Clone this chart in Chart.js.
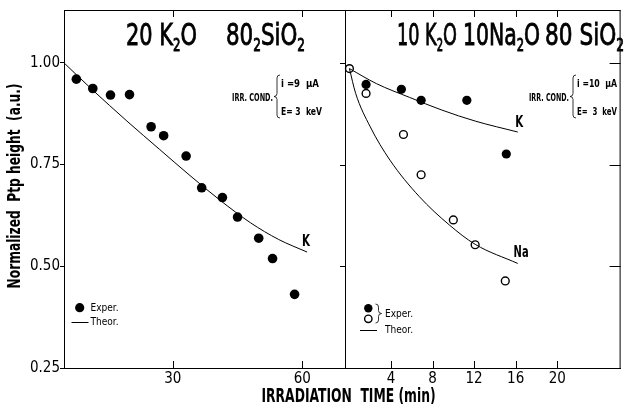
<!DOCTYPE html>
<html>
<head>
<meta charset="utf-8">
<script src="https://cdn.jsdelivr.net/npm/chart.js@4.4.0/dist/chart.umd.min.js"></script>
<style>
  body { margin: 0; background: #fff; }
  #wrap { position: relative; width: 625px; height: 404px; overflow: hidden; }
  #left { position: absolute; left: 0; top: 0; }
  #right { position: absolute; left: 340px; top: 0; }
  #xtitle {
    position: absolute; left: 199px; width: 300px; top: 384px;
    text-align: center; line-height: 19px; white-space: pre;
    font: bold 19px 'DejaVu Sans Condensed', 'DejaVu Sans', sans-serif;
  }
  #xtitle span { display: inline-block; transform-origin: center; }
</style>
</head>
<body>
<div id="wrap">
  <canvas id="left" width="352" height="404"></canvas>
  <canvas id="right" width="286" height="404"></canvas>
  <div id="xtitle"><span>IRRADIATION  TIME (min)</span></div>
</div>
<script>
const FONT = "'DejaVu Sans Condensed', 'DejaVu Sans', sans-serif";

// left panel: 20 K2O 80 SiO2
const leftExpTime = [7.7, 11.5, 15.6, 20.0, 25.0, 27.9, 33.1, 36.7, 41.5, 45.0, 49.9, 53.1, 58.2];
const leftExpK = [0.960, 0.937, 0.921, 0.922, 0.843, 0.821, 0.771, 0.693, 0.669, 0.621, 0.569, 0.519, 0.431];
const leftTheoTime = [4.84, 11.3, 19.4, 27.0, 34.0, 41.0, 48.0, 54.5, 61.1];
const leftTheoK = [1.000, 0.935, 0.857, 0.787, 0.723, 0.662, 0.607, 0.566, 0.535];

// right panel: 10 K2O 10 Na2O 80 SiO2
const rightExpTimeK = [1.6, 5.0, 6.9, 11.3, 15.1];
const rightExpK = [0.947, 0.935, 0.908, 0.908, 0.776];
const rightExpTimeNa = [0, 1.6, 5.2, 6.9, 10.0, 12.1, 15.0];
const rightExpNa = [0.986, 0.925, 0.824, 0.725, 0.614, 0.553, 0.464];
const rightTheoTimeK = [0, 2.6, 5.8, 8.9, 12.1, 16.2];
const rightTheoK = [0.986, 0.949, 0.915, 0.884, 0.857, 0.830];
const rightTheoTimeNa = [0, 0.6, 2.0, 3.9, 6.7, 9.6, 12.1, 16.2];
const rightTheoNa = [0.986, 0.925, 0.843, 0.761, 0.672, 0.602, 0.554, 0.507];

const leftTicksX = [30, 60];
const rightTicksX = [4, 8, 12, 16, 20];
const yTicks = [0.25, 0.50, 0.75, 1.00];

Chart.defaults.font.family = FONT;
Chart.defaults.color = '#000';

function pts(xs, ys) {
  return xs.map((x, i) => ({ x, y: ys[i] }));
}

// text squeezed to a given width (the original uses a condensed face)
function fitText(ctx, text, x, y, font, width, align) {
  ctx.save();
  ctx.font = font;
  ctx.textBaseline = 'middle';
  ctx.textAlign = 'left';
  const w = ctx.measureText(text).width;
  const sx = width / w;
  let x0 = x;
  if (align === 'right') x0 = x - width;
  if (align === 'center') x0 = x - width / 2;
  ctx.translate(x0, y);
  ctx.scale(sx, 1);
  ctx.fillText(text, 0, 0);
  ctx.restore();
}

// formula with subscripts: runs = [[text, isSub], ...], fitted to width
function drawRuns(ctx, x, base, runs, size, width) {
  const font = (sub) => `${sub ? Math.round(size * 0.55) : size}px ${FONT}`;
  let total = 0;
  runs.forEach(([t, sub]) => {
    ctx.font = font(sub);
    total += ctx.measureText(t).width;
  });
  ctx.save();
  ctx.translate(x, base);
  ctx.scale(width / total, 1);
  ctx.textBaseline = 'alphabetic';
  ctx.textAlign = 'left';
  ctx.lineWidth = 0.8;
  ctx.strokeStyle = '#000';
  let cx = 0;
  runs.forEach(([t, sub]) => {
    ctx.font = font(sub);
    const dy = sub ? size * 0.2 : 0;
    ctx.fillText(t, cx, dy);
    ctx.strokeText(t, cx, dy);
    cx += ctx.measureText(t).width;
  });
  ctx.restore();
}

// dir -1 => "{" , dir 1 => "}"
function brace(ctx, x, y0, y1, dir) {
  const m = (y0 + y1) / 2, w = 3 * dir, r = 3;
  ctx.beginPath();
  ctx.moveTo(x - w, y0);
  ctx.quadraticCurveTo(x, y0, x, y0 + r);
  ctx.lineTo(x, m - r);
  ctx.quadraticCurveTo(x, m, x + w, m);
  ctx.quadraticCurveTo(x, m, x, m + r);
  ctx.lineTo(x, y1 - r);
  ctx.quadraticCurveTo(x, y1, x - w, y1);
  ctx.stroke();
}

const framePlugin = {
  id: 'frame',
  afterDraw(chart, args, o) {
    const { ctx, chartArea: a, scales } = chart;
    ctx.save();
    ctx.strokeStyle = '#000';
    ctx.lineWidth = 1;
    ctx.beginPath();
    ctx.moveTo(a.left, a.top + 0.5);
    ctx.lineTo(a.right, a.top + 0.5);
    if (o.rightLine) {
      ctx.moveTo(a.right - 0.5, a.top);
      ctx.lineTo(a.right - 0.5, a.bottom);
    }
    o.xTicks.forEach((v) => {
      const px = Math.round(scales.x.getPixelForValue(v)) + 0.5;
      ctx.moveTo(px, a.top);
      ctx.lineTo(px, a.top + o.tick);
      ctx.moveTo(px, a.bottom);
      ctx.lineTo(px, a.bottom - o.tick);
    });
    o.rightTicks.forEach((v) => {
      const py = Math.round(scales.y.getPixelForValue(v)) + 0.5;
      ctx.moveTo(a.right, py);
      ctx.lineTo(a.right - o.rightTick, py);
    });
    ctx.stroke();
    ctx.restore();
  },
};

const leftNotes = {
  id: 'leftNotes',
  afterDraw(chart) {
    const { ctx, chartArea: a, scales: { x, y } } = chart;
    ctx.save();
    ctx.fillStyle = '#000';
    ctx.strokeStyle = '#000';
    drawRuns(ctx, 126, 45, [['20 K', 0], ['2', 1], ['O', 0]], 30, 71);
    drawRuns(ctx, 226, 45, [['80', 0], ['2', 1], ['SiO', 0], ['2', 1]], 30, 79);

    // y axis title
    ctx.save();
    ctx.translate(16, (a.top + a.bottom) / 2 - 3);
    ctx.rotate(-Math.PI / 2);
    fitText(ctx, 'Normalized  Ptp height  (a.u.)', 0, 0, `bold 17px ${FONT}`, 205, 'center');
    ctx.restore();

    fitText(ctx, 'K', x.getPixelForValue(59.9), y.getPixelForValue(0.56), `bold 15px ${FONT}`, 8);

    ctx.lineWidth = 0.8;
    fitText(ctx, 'IRR. COND.', 273, 98, `bold 10px ${FONT}`, 41, 'right');
    brace(ctx, 277, 75, 118, -1);
    fitText(ctx, 'i =9  \u03bcA', 281, 84, `bold 10px ${FONT}`, 38);
    fitText(ctx, 'E= 3  keV', 281, 112, `bold 10px ${FONT}`, 41);

    // legend
    ctx.beginPath();
    ctx.arc(79.7, 307.7, 4.6, 0, Math.PI * 2);
    ctx.fill();
    fitText(ctx, 'Exper.', 90.5, 308, `11px ${FONT}`, 28);
    ctx.lineWidth = 1;
    ctx.beginPath();
    ctx.moveTo(71.5, 322.5);
    ctx.lineTo(88.5, 322.5);
    ctx.stroke();
    fitText(ctx, 'Theor.', 90.5, 322.5, `11px ${FONT}`, 28);
    ctx.restore();
  },
};

const rightNotes = {
  id: 'rightNotes',
  afterDraw(chart) {
    const { ctx, scales: { x, y } } = chart;
    ctx.save();
    ctx.fillStyle = '#000';
    ctx.strokeStyle = '#000';
    const o = 340; // canvas offset on page
    drawRuns(ctx, 397 - o, 45, [['10 K', 0], ['2', 1], ['O', 0]], 30, 60);
    drawRuns(ctx, 463 - o, 45, [['10Na', 0], ['2', 1], ['O', 0]], 30, 77);
    drawRuns(ctx, 545 - o, 45, [['80 SiO', 0], ['2', 1]], 30, 79);

    fitText(ctx, 'K', x.getPixelForValue(15.95), y.getPixelForValue(0.851), `bold 15px ${FONT}`, 8);
    fitText(ctx, 'Na', x.getPixelForValue(15.8), y.getPixelForValue(0.532), `bold 15px ${FONT}`, 15);

    ctx.lineWidth = 0.8;
    fitText(ctx, 'IRR. COND.', 569 - o, 98, `bold 10px ${FONT}`, 40, 'right');
    brace(ctx, 573 - o, 75, 118, -1);
    fitText(ctx, 'i =10  \u03bcA', 577 - o, 84, `bold 10px ${FONT}`, 40);
    fitText(ctx, 'E=  3  keV', 577 - o, 112, `bold 10px ${FONT}`, 40);

    // legend
    ctx.beginPath();
    ctx.arc(368.3 - o, 308.3, 4.2, 0, Math.PI * 2);
    ctx.fill();
    ctx.lineWidth = 1.4;
    ctx.beginPath();
    ctx.arc(368.3 - o, 318.8, 3.7, 0, Math.PI * 2);
    ctx.stroke();
    ctx.lineWidth = 0.8;
    brace(ctx, 378.5 - o, 304, 323, 1);
    fitText(ctx, 'Exper.', 385 - o, 314, `11px ${FONT}`, 28);
    ctx.lineWidth = 1;
    ctx.beginPath();
    ctx.moveTo(360 - o, 330.5);
    ctx.lineTo(377 - o, 330.5);
    ctx.stroke();
    fitText(ctx, 'Theor.', 385 - o, 330.5, `11px ${FONT}`, 28);
    ctx.restore();
  },
};

const tickFont = { size: 15, family: FONT };

function xScale(min, max, ticks) {
  return {
    type: 'linear',
    min,
    max,
    afterBuildTicks: (s) => { s.ticks = ticks.map((v) => ({ value: v })); },
    afterFit: (s) => { s.height = 36; },
    grid: { display: false, drawTicks: false },
    border: { color: '#000', width: 1 },
    ticks: { color: '#000', font: tickFont, padding: 2, maxRotation: 0 },
  };
}

new Chart(document.getElementById('left'), {
  type: 'scatter',
  data: {
    datasets: [
      {
        label: 'Theor.',
        data: pts(leftTheoTime, leftTheoK),
        showLine: true,
        borderColor: '#000',
        borderWidth: 1,
        pointRadius: 0,
        cubicInterpolationMode: 'monotone',
      },
      {
        label: 'Exper.',
        data: pts(leftExpTime, leftExpK),
        pointRadius: 4.8,
        pointBackgroundColor: '#000',
        pointBorderColor: '#000',
        pointBorderWidth: 0,
        clip: false,
      },
    ],
  },
  options: {
    responsive: false,
    animation: false,
    events: [],
    layout: { padding: { top: 10, right: 6, left: 0, bottom: 0 } },
    plugins: {
      legend: { display: false },
      tooltip: { enabled: false },
      frame: { xTicks: leftTicksX, tick: 7, rightTicks: [0.50, 0.75, 1.00], rightTick: 6, rightLine: true },
    },
    scales: {
      x: xScale(4.84, 70.1, leftTicksX),
      y: {
        min: 0.25,
        max: 1.13,
        afterBuildTicks: (s) => { s.ticks = yTicks.map((v) => ({ value: v })); },
        afterFit: (s) => { s.width = 64; },
        grid: { drawOnChartArea: false, tickLength: 4, color: '#000' },
        border: { color: '#000', width: 1 },
        ticks: { color: '#000', font: tickFont, padding: 0, callback: (v) => v.toFixed(2) },
      },
    },
  },
  plugins: [framePlugin, leftNotes],
});

new Chart(document.getElementById('right'), {
  type: 'scatter',
  data: {
    datasets: [
      {
        label: 'Theor. K',
        data: pts(rightTheoTimeK, rightTheoK),
        showLine: true,
        borderColor: '#000',
        borderWidth: 1,
        pointRadius: 0,
        cubicInterpolationMode: 'monotone',
      },
      {
        label: 'Theor. Na',
        data: pts(rightTheoTimeNa, rightTheoNa),
        showLine: true,
        borderColor: '#000',
        borderWidth: 1,
        pointRadius: 0,
        cubicInterpolationMode: 'monotone',
      },
      {
        label: 'Exper. K',
        data: pts(rightExpTimeK, rightExpK),
        pointRadius: 4.6,
        pointBackgroundColor: '#000',
        pointBorderColor: '#000',
        pointBorderWidth: 0,
        clip: false,
      },
      {
        label: 'Exper. Na',
        data: pts(rightExpTimeNa, rightExpNa),
        pointRadius: 3.9,
        pointBackgroundColor: '#fff',
        pointBorderColor: '#000',
        pointBorderWidth: 1.4,
        clip: false,
      },
    ],
  },
  options: {
    responsive: false,
    animation: false,
    events: [],
    layout: { padding: { top: 10, right: 0, left: 6, bottom: 0 } },
    plugins: {
      legend: { display: false },
      tooltip: { enabled: false },
      frame: { xTicks: rightTicksX, tick: 7, rightTicks: [0.50, 0.75, 1.00], rightTick: 11, rightLine: true },
    },
    scales: {
      x: xScale(-0.33, 26.1, rightTicksX),
      y: { display: false, min: 0.25, max: 1.13 },
    },
  },
  plugins: [framePlugin, rightNotes],
});

// squeeze the shared axis title to the width it has in the original
const xt = document.querySelector('#xtitle span');
xt.style.transform = `scaleX(${174 / xt.offsetWidth})`;
</script>
</body>
</html>
